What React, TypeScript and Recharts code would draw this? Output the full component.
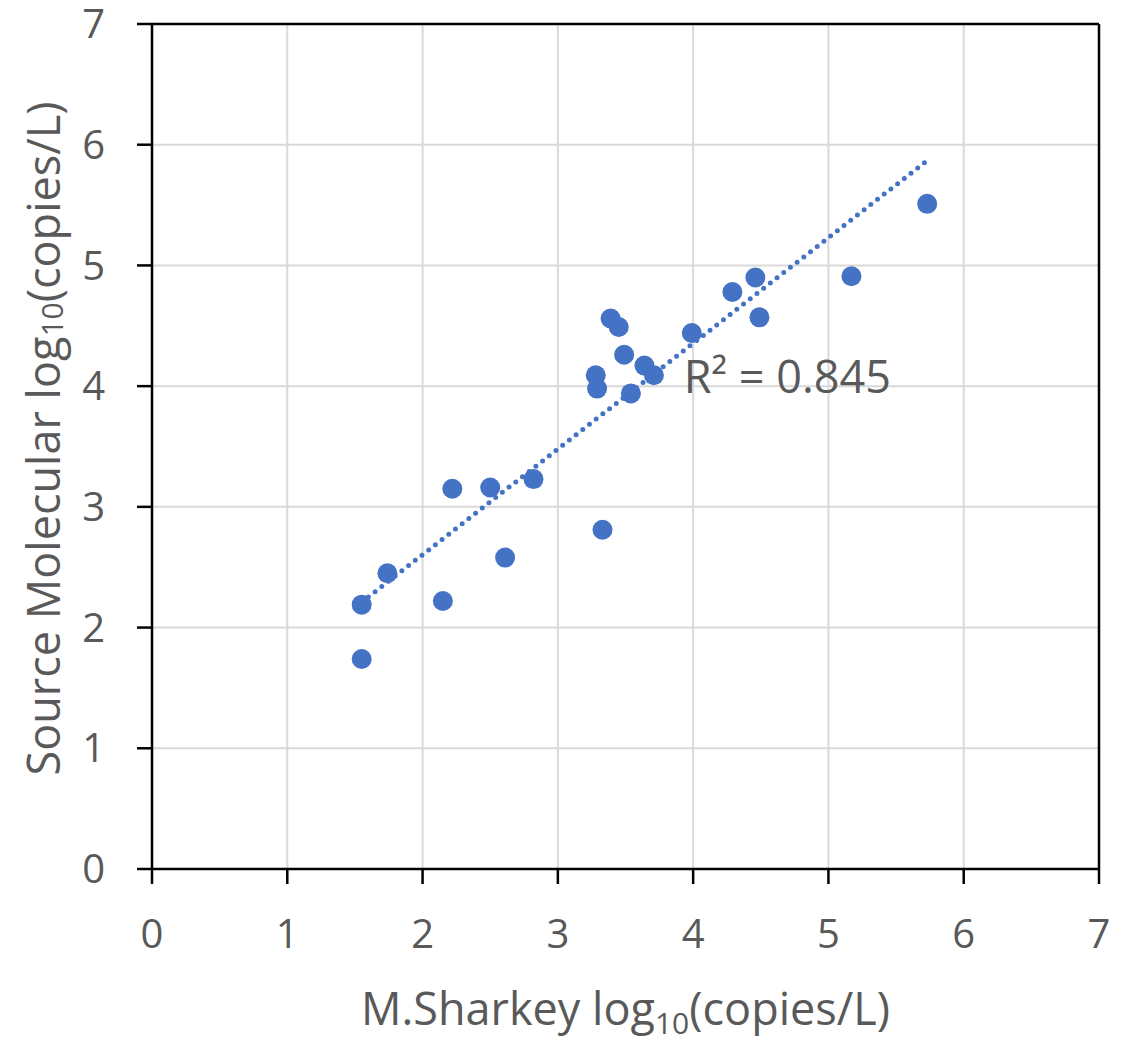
import React from 'react';
import {
  ScatterChart,
  Scatter,
  XAxis,
  YAxis,
  CartesianGrid,
  ReferenceLine,
  ReferenceDot,
} from 'recharts';

// M.Sharkey log10 copies/L (x) vs Source Molecular log10 copies/L (y)
const sharkey = [
  1.55, 1.55, 1.74, 2.15, 2.22, 2.5, 2.61, 2.82, 3.33, 3.28, 3.29, 3.39,
  3.45, 3.49, 3.54, 3.64, 3.71, 3.99, 4.29, 4.46, 4.49, 5.17, 5.73,
];
const sourceMolecular = [
  2.19, 1.74, 2.45, 2.22, 3.15, 3.16, 2.58, 3.23, 2.81, 4.09, 3.98, 4.56,
  4.49, 4.26, 3.94, 4.17, 4.09, 4.44, 4.78, 4.9, 4.57, 4.91, 5.51,
];

// linear trendline ends
const trendX = [1.55, 5.72];
const trendY = [2.21, 5.86];

const ticks = [0, 1, 2, 3, 4, 5, 6, 7];
const rSquared = 'R² = 0.845';

const BLUE = '#4472C4';
const TEXT = '#595959';
const FONT = '"Open Sans", sans-serif';

const points = sharkey.map((x, i) => ({ x, y: sourceMolecular[i] }));
const trend = trendX.map((x, i) => ({ x, y: trendY[i] }));

function XTitle({ viewBox }: any) {
  const cx = viewBox.x + viewBox.width / 2;
  return (
    <text x={cx} y={viewBox.y + 156} textAnchor="middle" fill={TEXT} fontSize={45} fontFamily={FONT}>
      M.Sharkey log
      <tspan fontSize={30} dy={9}>10</tspan>
      <tspan dy={-9}>(copies/L)</tspan>
    </text>
  );
}

function YTitle({ viewBox }: any) {
  const cx = viewBox.x + 10;
  const cy = viewBox.y + viewBox.height / 2 - 8;
  return (
    <text
      x={cx}
      y={cy}
      transform={`rotate(-90, ${cx}, ${cy})`}
      textAnchor="middle"
      dominantBaseline="central"
      fill={TEXT}
      fontSize={45}
      fontFamily={FONT}
    >
      Source Molecular log
      <tspan fontSize={30} dy={9}>10</tspan>
      <tspan dy={-9}>(copies/L)</tspan>
    </text>
  );
}

function RLabel({ viewBox }: any) {
  return (
    <text x={viewBox.x} y={viewBox.y + 15} fill={TEXT} fontSize={45} fontFamily={FONT}>
      {rSquared}
    </text>
  );
}

const dot = (p: any) => <circle cx={p.cx} cy={p.cy} r={10} fill={BLUE} />;

export default function App() {
  return (
    <div style={{ position: 'absolute', left: 0, top: 0, background: '#fff' }}>
      <ScatterChart width={1122} height={1038} margin={{ top: 24, right: 23, left: 32, bottom: 69 }}>
        <CartesianGrid stroke="#d9d9d9" strokeWidth={2} />
        <XAxis
          type="number"
          dataKey="x"
          domain={[0, 7]}
          ticks={ticks}
          height={100}
          tickSize={15}
          tickMargin={36}
          axisLine={{ stroke: '#000', strokeWidth: 2.5 }}
          tickLine={{ stroke: '#000', strokeWidth: 2.5 }}
          tick={{ fill: TEXT, fontSize: 40, fontFamily: FONT }}
          label={<XTitle />}
        />
        <YAxis
          type="number"
          dataKey="y"
          domain={[0, 7]}
          ticks={ticks}
          width={120}
          tickSize={15}
          tickMargin={32}
          axisLine={{ stroke: '#000', strokeWidth: 2.5 }}
          tickLine={{ stroke: '#000', strokeWidth: 2.5 }}
          tick={{ fill: TEXT, fontSize: 40, fontFamily: FONT }}
          label={<YTitle />}
        />
        <ReferenceLine y={7} stroke="#000" strokeWidth={2.5} />
        <ReferenceLine x={7} stroke="#000" strokeWidth={2.5} />
        <Scatter data={points} shape={dot} isAnimationActive={false} />
        <Scatter
          data={trend}
          line={{ stroke: BLUE, strokeWidth: 5, strokeDasharray: '0 8.5', strokeLinecap: 'round' }}
          shape={() => <g />}
          isAnimationActive={false}
        />
        <ReferenceDot x={3.93} y={4.07} r={0} stroke="none" label={<RLabel />} />
      </ScatterChart>
    </div>
  );
}
